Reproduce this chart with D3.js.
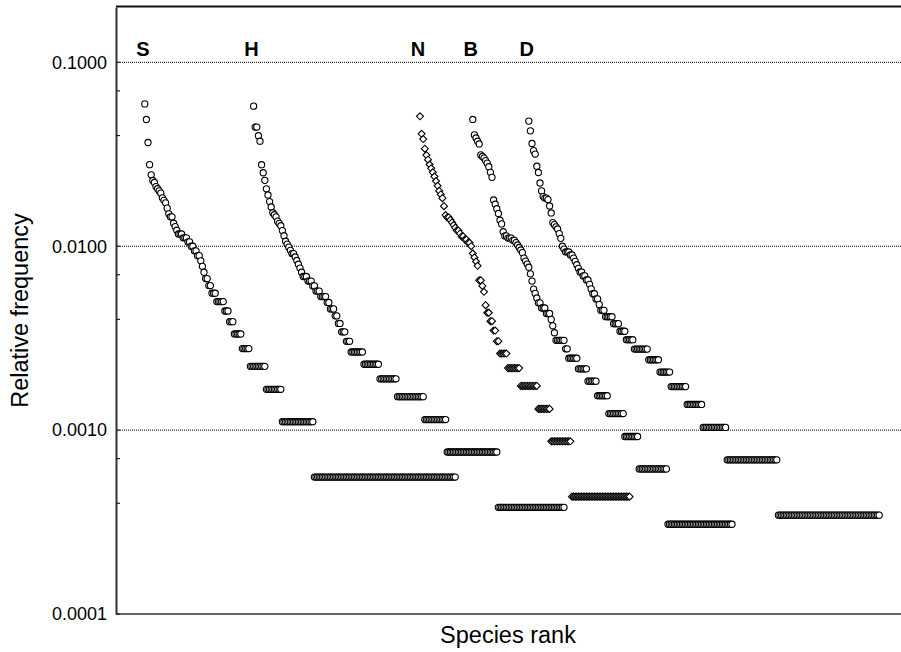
<!DOCTYPE html>
<html>
<head>
<meta charset="utf-8">
<script src="https://cdn.jsdelivr.net/npm/d3@7"></script>
<style>
  body { margin: 0; background: #fff; }
  svg { display: block; font-family: "Liberation Sans", Arial, Helvetica, sans-serif; }
</style>
</head>
<body>
<svg width="901" height="652"></svg>
<script>
// individual counts for the ranked species, then [count, number of species] for the tied tail
const sHead = [107, 88, 66, 50, 44, 41, 40, 38, 37, 36, 35, 33, 32, 31, 29, 27, 26, 26, 24, 23,
    22, 21, 21, 21, 20, 20, 20, 19, 19, 18, 18, 17, 17, 16, 16, 15, 14, 13, 12, 12,
    11, 11, 10, 10, 10, 9, 9, 9, 9, 9, 8, 8, 8, 7, 7, 7, 6, 6, 6, 6, 6, 5, 5, 5, 5, 5];
const sTail = [[4, 10], [3, 10], [2, 20], [1, 89]];

const hHead = [152, 117, 117, 105, 98, 73, 66, 60, 54, 50, 46, 43, 40, 39, 38, 36, 35, 34, 32, 30,
    28, 27, 26, 25, 24, 24, 23, 22, 21, 20, 19, 18, 18, 18, 17, 17, 17, 16, 16, 15,
    15, 15, 14, 14, 14, 14, 13, 13, 12, 12, 12, 11, 11, 10, 10, 9, 9, 9, 8, 8, 8];
const hTail = [[7, 8], [6, 10], [5, 11], [4, 17], [3, 14], [2, 32], [1, 42]];

const nHead = [117, 94, 88, 78, 72, 68, 64, 61, 58, 55, 52, 49, 46, 44, 42, 38, 34, 33, 33, 32,
    31, 30, 29, 28, 28, 27, 26, 26, 25, 25, 24, 24, 23, 21, 20, 19, 18, 15, 15, 14,
    13, 11, 10, 10, 9, 9, 8, 8, 7, 7];
const nTail = [[6, 5], [5, 8], [4, 11], [3, 8], [2, 13], [1, 37]];

const bHead = [159, 131, 126, 121, 117, 102, 100, 98, 95, 92, 88, 82, 77, 58, 55, 52, 49, 45, 43, 39,
    37, 37, 36, 36, 36, 35, 35, 34, 33, 32, 31, 30, 28, 27, 26, 25, 23, 21, 19, 18,
    17, 16, 16, 15, 15, 15, 14, 14, 14, 13, 12, 11];
const bTail = [[10, 6], [9, 2], [8, 6], [7, 6], [6, 6], [5, 7], [4, 10], [3, 9], [2, 18], [1, 41]];

const dHead = [139, 123, 105, 96, 92, 79, 73, 64, 58, 54, 53, 53, 52, 48, 44, 39, 38, 37, 36, 34,
    32, 29, 28, 27, 27, 27, 26, 26, 25, 24, 23, 22, 21, 21, 20, 20, 19, 19, 18, 17,
    16, 16, 15, 15, 14, 13, 13, 13, 12, 12, 12, 12, 12, 11, 11, 11, 11, 10, 10, 10,
    10, 9, 9, 9, 9, 9];
const dTail = [[8, 9], [7, 7], [6, 7], [5, 10], [4, 10], [3, 15], [2, 32], [1, 64]];

const labels = ["S", "H", "N", "B", "D"];
const totals = [1800, 2630, 2300, 3250, 2900];   // sample sizes (singletons = 1/total)
const firstRank = [18, 86, 190, 223, 258];       // where each sample starts on the rank axis
const majorTicks = [0.1, 0.01, 0.001, 0.0001];
const minorTicks = [0.07, 0.04, 0.007, 0.004, 0.0007, 0.0004];

const heads = [sHead, hHead, nHead, bHead, dHead];
const tails = [sTail, hTail, nTail, bTail, dTail];

const series = labels.map((name, k) => {
    const counts = heads[k].slice();
    tails[k].forEach(([c, n]) => { for (let j = 0; j < n; j++) counts.push(c); });
    return {
        name: name,
        points: counts.map((c, i) => ({ rank: firstRank[k] + i, value: c / totals[k] }))
    };
});

const svg = d3.select("svg");
const margin = { top: 7, right: 0, bottom: 38, left: 116 };
const width = +svg.attr("width") - margin.left - margin.right;
const height = +svg.attr("height") - margin.top - margin.bottom;

const x = d3.scaleLinear().domain([0, 490]).range([margin.left, margin.left + 784]);
const y = d3.scaleLog().domain([0.0001, 0.2]).range([margin.top + height, margin.top]);

const g = svg.append("g");

// dotted grid at the decades
g.selectAll(".grid")
    .data(majorTicks.filter(d => d > 0.0001))
    .enter().append("line")
    .attr("class", "grid")
    .attr("x1", margin.left).attr("x2", margin.left + width)
    .attr("y1", d => y(d)).attr("y2", d => y(d))
    .attr("stroke", "#000")
    .attr("stroke-width", 1)
    .attr("stroke-dasharray", "1,1");

// frame: top and bottom lines
g.append("line")
    .attr("x1", margin.left).attr("x2", margin.left + width)
    .attr("y1", margin.top - 0.5).attr("y2", margin.top - 0.5)
    .attr("stroke", "#111").attr("stroke-width", 2);
g.append("line")
    .attr("x1", margin.left).attr("x2", margin.left + width)
    .attr("y1", margin.top + height).attr("y2", margin.top + height)
    .attr("stroke", "#333").attr("stroke-width", 1.5);

// y axis
const yAxis = g.append("g")
    .attr("transform", `translate(${margin.left},0)`)
    .call(d3.axisLeft(y).tickValues(majorTicks).tickFormat(d3.format(".4f")).tickSize(0).tickPadding(9));
yAxis.select(".domain").attr("stroke", "#333").attr("stroke-width", 2);
yAxis.selectAll("text").attr("font-size", "18px").attr("fill", "#000")
    .attr("font-family", "'Liberation Sans', Arial, sans-serif");

g.selectAll(".minor")
    .data(minorTicks.concat(majorTicks))
    .enter().append("line")
    .attr("class", "minor")
    .attr("x1", margin.left).attr("x2", margin.left + 4)
    .attr("y1", d => y(d)).attr("y2", d => y(d))
    .attr("stroke", "#222").attr("stroke-width", 1.2);

// axis titles
svg.append("text")
    .attr("transform", `translate(28,${margin.top + height / 2}) rotate(-90)`)
    .attr("text-anchor", "middle")
    .attr("font-size", "23.5px")
    .text("Relative frequency");

svg.append("text")
    .attr("x", margin.left + 392)
    .attr("y", 643)
    .attr("text-anchor", "middle")
    .attr("font-size", "23.5px")
    .text("Species rank");

// sample letters
svg.selectAll(".lab")
    .data(series)
    .enter().append("text")
    .attr("class", "lab")
    .attr("x", (d, k) => x(firstRank[k]) - 2)
    .attr("y", y(0.1) - 6)
    .attr("text-anchor", "middle")
    .attr("font-size", "20px")
    .attr("font-weight", "bold")
    .text(d => d.name);

const diamond = r => `M0,${-r}L${r},0L0,${r}L${-r},0Z`;

series.forEach(s => {
    const pts = g.append("g").attr("class", "series-" + s.name);
    if (s.name === "N") {
        pts.selectAll("path")
            .data(s.points)
            .enter().append("path")
            .attr("d", diamond(3.5))
            .attr("transform", d => `translate(${x(d.rank)},${y(d.value)})`)
            .attr("fill", "#fff")
            .attr("stroke", "#000")
            .attr("stroke-width", 1.1);
    } else {
        pts.selectAll("circle")
            .data(s.points)
            .enter().append("circle")
            .attr("cx", d => x(d.rank))
            .attr("cy", d => y(d.value))
            .attr("r", 3.1)
            .attr("fill", "#fff")
            .attr("stroke", "#000")
            .attr("stroke-width", 1.1);
    }
});
</script>
</body>
</html>
